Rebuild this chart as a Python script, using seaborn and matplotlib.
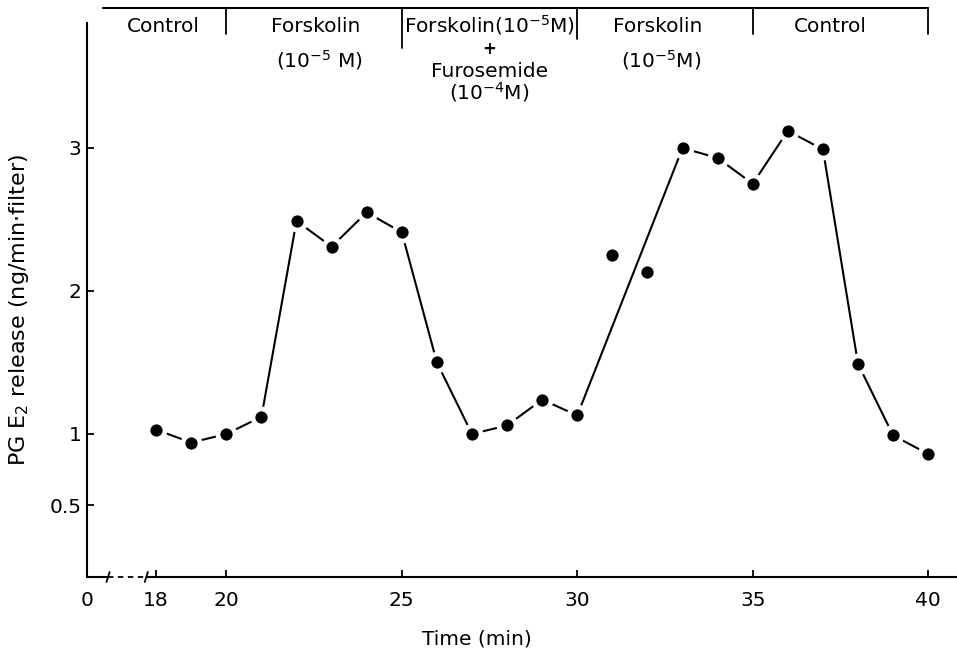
import matplotlib
matplotlib.use("Agg")
import matplotlib.pyplot as plt
import numpy as np
import pandas as pd
import seaborn as sns

# ---------------- data ----------------
time_min = list(range(18, 41))
pge2 = [1.03, 0.94, 1.00, 1.12, 2.49, 2.31, 2.55, 2.41, 1.50, 1.00, 1.06, 1.24,
        1.13, 2.25, 2.13, 3.00, 2.93, 2.75, 3.12, 2.99, 1.49, 0.99, 0.86]
off_line_times = [31, 32]          # points not joined by the line
x_ticks = [18, 20, 25, 30, 35, 40]
x_tick_labels = ["18", "20", "25", "30", "35", "40"]
y_ticks = [0.5, 1, 2, 3]
y_tick_labels = ["0.5", "1", "2", "3"]
period_bounds = [20, 25, 30, 35, 40]
period_names = ["Control", "Forskolin", "Forskolin(10$^{-5}$M)", "Forskolin", "Control"]
period_sub = ["", "(10$^{-5}$ M)", "Furosemide", "(10$^{-5}$M)", ""]

df = pd.DataFrame({"time": time_min, "pge2": pge2})
df_line = df[~df["time"].isin(off_line_times)]

# ---------------- style ----------------
sns.set_theme(style="white")
plt.rcParams["font.family"] = ["DejaVu Sans"]
plt.rcParams["mathtext.default"] = "regular"

fig = plt.figure(figsize=(9.57, 6.55), dpi=100)
ax = fig.add_axes([87 / 957, 78 / 655, 870 / 957, 569 / 655])

x_left, x_right = 16.03, 40.82
y_top = 3.979
ax.set_xlim(x_left, x_right)
ax.set_ylim(0, y_top)

sns.lineplot(data=df_line, x="time", y="pge2", ax=ax, color="black",
             linewidth=1.5, estimator=None, sort=True, zorder=2)
sns.scatterplot(data=df, x="time", y="pge2", ax=ax, color="black", s=150,
                edgecolor="white", linewidth=3.4, zorder=3, clip_on=False)

# spines
for s in ["top", "right", "bottom"]:
    ax.spines[s].set_visible(False)
ax.spines["left"].set_linewidth(1.5)
ax.spines["left"].set_color("black")
ax.spines["left"].set_bounds(0, 3.874)

# broken x axis drawn in data coordinates
b1, b2 = 16.63, 17.72
kw = dict(color="black", lw=1.5, clip_on=False, solid_capstyle="butt")
ax.plot([x_left, b1], [0, 0], **kw)
ax.plot([b1, b2], [0, 0], color="black", lw=1.3, ls=(0, (3, 2.5)), clip_on=False)
ax.plot([b2, x_right], [0, 0], **kw)
for bx in (b1, b2):
    ax.plot([bx - 0.045, bx + 0.045], [-0.035, 0.035], color="black", lw=1.3, clip_on=False)

# ticks
ax.set_xticks([x_left] + x_ticks)
ax.set_xticklabels(["0"] + x_tick_labels)
ax.set_yticks(y_ticks)
ax.set_yticklabels(y_tick_labels)
ax.tick_params(axis="x", direction="in", length=5, width=1.3, pad=10,
               labelsize=14.5, colors="black", bottom=True)
ax.tick_params(axis="y", direction="in", length=5, width=1.3, pad=4,
               labelsize=14.5, colors="black", left=True)
ax.xaxis.get_major_ticks()[0].tick1line.set_visible(False)

ax.set_xlabel("Time (min)", fontsize=14.5, color="black")
ax.xaxis.set_label_coords(0.448, -0.092)
ax.set_ylabel("PG E$_2$ release (ng/min$\\cdot$filter)", fontsize=16, color="black")
ax.yaxis.set_label_coords(-0.064, 0.469)

# header bar with treatment periods
hx0 = 16.49
ax.plot([hx0, period_bounds[-1]], [y_top, y_top], color="black", lw=1.5, clip_on=False)
div_bottom = [3.80, 3.70, 3.76, 3.80, 3.80]
for xb, yb in zip(period_bounds, div_bottom):
    ax.plot([xb, xb], [yb, y_top], color="black", lw=1.3, clip_on=False)

fs = 14.5
centers = [18.2, 22.55, 27.5, 32.3, 37.2]
for cx, name, sub in zip(centers, period_names, period_sub):
    ax.text(cx, 3.811, name, ha="center", va="baseline", fontsize=fs, color="black")
    if sub:
        yb = 3.497 if sub == "Furosemide" else 3.565
        ax.text(cx + (0.1 if sub.startswith("(") else 0), yb, sub, ha="center",
                va="baseline", fontsize=fs, color="black")
ax.text(27.5, 3.69, "+", ha="center", va="center", fontsize=12, fontweight="bold",
        color="black")
ax.text(27.5, 3.343, "(10$^{-4}$M)", ha="center", va="baseline", fontsize=fs, color="black")

fig.savefig("out.png", dpi=100)
